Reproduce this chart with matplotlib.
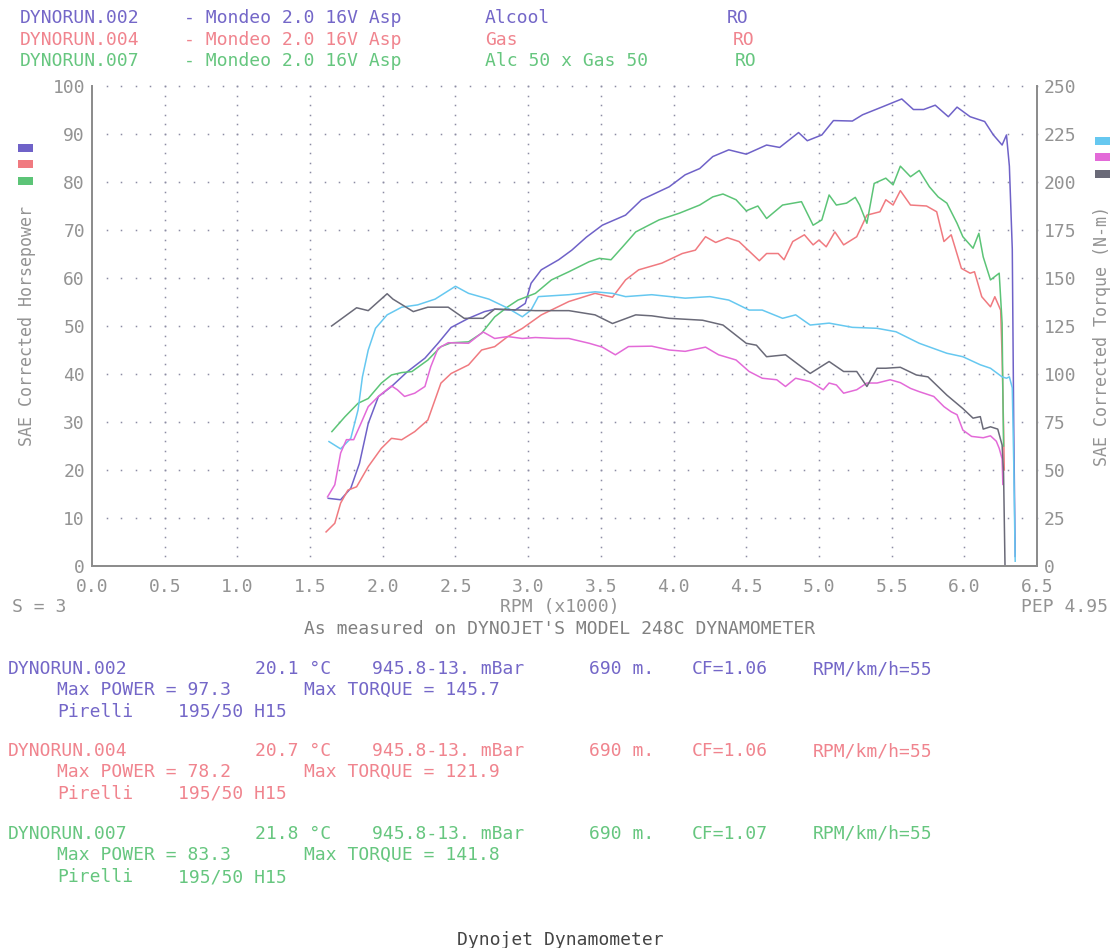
import numpy as np
import matplotlib
matplotlib.use("Agg")
import matplotlib.pyplot as plt
from matplotlib.patches import Rectangle

plt.rcParams['font.family'] = ['DejaVu Sans Mono']

W, H = 1115, 948

# ---- data (rpm x1000) ----
rpm_hp_002 = [1.625, 1.71, 1.78, 1.84, 1.90, 1.97, 2.06, 2.17, 2.29, 2.38, 2.47, 2.59, 2.70, 2.77, 2.91,
              2.98, 3.02, 3.09, 3.21, 3.30, 3.40, 3.51, 3.67, 3.78, 3.97, 4.08, 4.18, 4.27, 4.38, 4.50,
              4.64, 4.73, 4.86, 4.92, 5.02, 5.10, 5.23, 5.30, 5.44, 5.57, 5.65, 5.72, 5.80, 5.89, 5.95,
              6.04, 6.14, 6.20, 6.26, 6.29, 6.31, 6.33, 6.34, 6.35]
hp_002 = [14.1, 13.8, 16.2, 21.4, 29.7, 35.3, 37.4, 40.5, 43.3, 46.4, 49.7, 51.6, 53.0, 53.5, 53.3,
          54.7, 58.9, 61.7, 63.8, 65.8, 68.5, 71.0, 73.1, 76.3, 79.0, 81.5, 82.8, 85.3, 86.7, 85.8,
          87.7, 87.2, 90.3, 88.6, 89.8, 92.8, 92.7, 94.0, 95.7, 97.3, 95.1, 95.1, 96.0, 93.6, 95.6,
          93.6, 92.6, 89.8, 87.7, 89.8, 83.3, 66.0, 29.0, 2.0]

rpm_tq_002 = [1.63, 1.71, 1.78, 1.83, 1.86, 1.90, 1.95, 2.03, 2.13, 2.24, 2.36, 2.50, 2.59, 2.73, 2.86,
              2.96, 3.02, 3.07, 3.28, 3.46, 3.58, 3.67, 3.85, 4.08, 4.25, 4.38, 4.52, 4.61, 4.75, 4.84,
              4.94, 5.07, 5.23, 5.40, 5.53, 5.69, 5.88, 5.99, 6.11, 6.18, 6.26, 6.29, 6.31, 6.33, 6.34,
              6.35]
tq_002 = [64.8, 61.0, 66.5, 81.3, 98.5, 112.5, 123.8, 130.8, 134.8, 136.0, 139.0, 145.7, 142.0, 139.0, 134.3,
          129.8, 133.3, 140.3, 141.3, 142.8, 142.0, 140.3, 141.3, 139.5, 140.3, 138.5, 133.3, 133.3, 129.0, 130.8,
          125.5, 126.5, 124.3, 123.8, 122.0, 116.0, 110.8, 109.0, 104.8, 103.0, 98.5, 97.8, 98.5, 92.8, 53.8,
          2.5]

rpm_hp_004 = [1.61, 1.67, 1.71, 1.76, 1.82, 1.90, 1.99, 2.06, 2.13, 2.22, 2.31, 2.40, 2.47, 2.59, 2.68,
              2.77, 2.86, 2.96, 3.09, 3.28, 3.46, 3.58, 3.67, 3.76, 3.92, 4.06, 4.15, 4.22, 4.29, 4.37,
              4.45, 4.59, 4.64, 4.72, 4.76, 4.82, 4.90, 4.96, 5.00, 5.05, 5.11, 5.17, 5.26, 5.33, 5.42,
              5.46, 5.51, 5.56, 5.63, 5.74, 5.81, 5.86, 5.91, 5.98, 6.04, 6.07, 6.12, 6.18, 6.21, 6.25,
              6.26, 6.27, 6.275]
hp_004 = [7.1, 8.9, 13.1, 15.8, 16.5, 20.7, 24.5, 26.6, 26.3, 28.0, 30.4, 38.1, 40.1, 41.9, 45.0,
          45.7, 47.8, 49.5, 52.3, 55.1, 56.8, 56.0, 59.6, 61.7, 63.1, 65.1, 65.8, 68.6, 67.4, 68.4,
          67.6, 63.6, 65.1, 65.1, 63.8, 67.6, 69.0, 66.9, 67.9, 66.5, 69.6, 66.9, 68.6, 73.1, 73.8,
          76.3, 75.2, 78.2, 75.2, 75.0, 73.8, 67.6, 69.0, 62.0, 61.0, 61.3, 56.1, 54.0, 56.1, 53.3,
          43.6, 29.0, 20.0]

rpm_tq_004 = [1.62, 1.67, 1.71, 1.75, 1.80, 1.85, 1.90, 1.97, 2.06, 2.10, 2.15, 2.22, 2.29, 2.33, 2.38,
              2.45, 2.59, 2.69, 2.77, 2.86, 2.96, 3.05, 3.19, 3.28, 3.42, 3.51, 3.60, 3.69, 3.85, 3.97,
              4.08, 4.22, 4.31, 4.43, 4.52, 4.61, 4.71, 4.77, 4.84, 4.94, 5.03, 5.07, 5.12, 5.17, 5.26,
              5.33, 5.40, 5.49, 5.56, 5.63, 5.69, 5.79, 5.86, 5.91, 5.95, 5.99, 6.05, 6.13, 6.18, 6.22,
              6.24, 6.26, 6.265]
tq_004 = [36.0, 42.3, 58.8, 65.8, 65.8, 74.3, 83.0, 88.3, 93.8, 91.8, 88.3, 90.0, 93.5, 103.8, 113.3,
          116.3, 116.0, 121.9, 118.5, 119.5, 118.5, 119.0, 118.5, 118.5, 116.0, 114.0, 110.0, 114.3, 114.5, 112.5,
          111.8, 114.0, 110.0, 107.3, 101.3, 97.8, 97.0, 93.5, 97.8, 96.0, 91.8, 95.3, 94.3, 90.0, 91.8,
          95.3, 95.3, 97.0, 95.5, 92.5, 90.8, 88.3, 83.0, 80.3, 78.8, 70.8, 67.5, 66.8, 67.8, 65.0,
          61.3, 55.8, 42.5]

rpm_hp_007 = [1.65, 1.74, 1.83, 1.90, 1.99, 2.06, 2.13, 2.20, 2.31, 2.40, 2.47, 2.59, 2.68, 2.77, 2.86,
              2.93, 3.05, 3.16, 3.28, 3.42, 3.49, 3.57, 3.65, 3.74, 3.90, 4.04, 4.18, 4.27, 4.34, 4.43,
              4.50, 4.58, 4.64, 4.75, 4.88, 4.96, 5.02, 5.07, 5.12, 5.19, 5.25, 5.28, 5.33, 5.38, 5.46,
              5.51, 5.56, 5.63, 5.69, 5.76, 5.82, 5.88, 5.95, 5.99, 6.06, 6.10, 6.13, 6.18, 6.24, 6.26,
              6.265, 6.27]
hp_007 = [28.0, 31.1, 33.9, 34.9, 38.1, 39.8, 40.3, 40.5, 42.9, 45.7, 46.5, 46.7, 48.5, 51.9, 54.0,
          55.4, 56.8, 59.6, 61.3, 63.4, 64.1, 63.8, 66.5, 69.6, 72.1, 73.5, 75.2, 76.9, 77.5, 76.3,
          74.0, 75.0, 72.4, 75.2, 75.9, 71.0, 72.1, 77.3, 75.2, 75.6, 76.8, 75.2, 71.4, 79.7, 80.8,
          79.4, 83.3, 81.1, 82.4, 79.0, 76.9, 75.6, 71.4, 68.6, 66.2, 69.3, 64.4, 59.6, 61.0, 50.6,
          36.7, 25.0]

rpm_tq_007 = [1.648, 1.82, 1.90, 2.03, 2.07, 2.21, 2.31, 2.45, 2.56, 2.69, 2.77, 3.05, 3.28, 3.46, 3.58,
              3.74, 3.85, 3.97, 4.20, 4.34, 4.50, 4.57, 4.64, 4.77, 4.94, 5.07, 5.17, 5.26, 5.33, 5.40,
              5.46, 5.56, 5.67, 5.75, 5.88, 5.99, 6.06, 6.11, 6.13, 6.18, 6.23, 6.26, 6.27, 6.28]
tq_007 = [125.0, 134.5, 133.0, 141.8, 139.0, 132.5, 134.8, 134.8, 129.0, 129.0, 133.8, 133.0, 133.0, 130.8, 126.3,
          130.8, 130.3, 129.0, 128.0, 125.5, 116.0, 115.0, 109.0, 110.0, 100.3, 106.5, 101.3, 101.3, 93.5, 103.0,
          103.0, 103.5, 99.5, 98.5, 89.0, 82.0, 77.0, 77.8, 71.3, 72.5, 71.3, 63.0, 48.3, 0.0]

runs = ["DYNORUN.002", "DYNORUN.004", "DYNORUN.007"]
run_desc = ["Alcool", "Gas", "Alc 50 x Gas 50"]
temps = ["20.1 \u00b0C", "20.7 \u00b0C", "21.8 \u00b0C"]
cf = ["CF=1.06", "CF=1.06", "CF=1.07"]
max_power = ["97.3", "78.2", "83.3"]
max_torque = ["145.7", "121.9", "141.8"]

hp_colors = ["#6f62c8", "#f07a80", "#5cc477"]
tq_colors = ["#66c8f0", "#e36ad8", "#6a6a78"]
txt_colors = ["#7467c8", "#f0848e", "#66c67f"]
axis_gray = "#939393"


def fx(x):
    return x / W


def fy(y):
    return 1 - y / H


fig = plt.figure(figsize=(W / 100, H / 100), dpi=100)
ax = fig.add_axes([fx(92), fy(566), fx(1037) - fx(92), fy(86) - fy(566)])
ax2 = ax.twinx()

# dotted grid like the dyno printout
gx = np.arange(0.1, 6.51, 0.1)
for yy in range(10, 101, 10):
    ax.plot(gx, np.full_like(gx, yy), ls='none', marker='s', ms=1.1, mew=0, color='#8c8ca4',
            zorder=1, clip_on=False)
gy = np.arange(2, 101, 2)
for xx in np.arange(0.5, 6.01, 0.5):
    ax.plot(np.full_like(gy, xx, dtype=float), gy, ls='none', marker='s', ms=1.1, mew=0,
            color='#8c8ca4', zorder=1, clip_on=False)

ax.plot(rpm_hp_002, hp_002, color=hp_colors[0], lw=1.1, zorder=3)
ax.plot(rpm_hp_004, hp_004, color=hp_colors[1], lw=1.1, zorder=3)
ax.plot(rpm_hp_007, hp_007, color=hp_colors[2], lw=1.1, zorder=3)
ax2.plot(rpm_tq_002, tq_002, color=tq_colors[0], lw=1.1)
ax2.plot(rpm_tq_004, tq_004, color=tq_colors[1], lw=1.1)
ax2.plot(rpm_tq_007, tq_007, color=tq_colors[2], lw=1.1)

ax.set_xlim(0, 6.5)
ax.set_ylim(0, 100)
ax2.set_ylim(0, 250)
ax.set_xticks(np.arange(0, 6.51, 0.5))
ax.set_xticklabels(["%.1f" % v for v in np.arange(0, 6.51, 0.5)])
ax.set_yticks(range(0, 101, 10))
ax2.set_yticks(range(0, 251, 25))

for a in (ax, ax2):
    a.tick_params(length=0, labelsize=13, colors=axis_gray)
    a.spines['top'].set_visible(False)
    for s in ('left', 'right', 'bottom'):
        a.spines[s].set_color('#8c8c8c')
        a.spines[s].set_linewidth(1.3)
ax.tick_params(axis='y', pad=5)
ax.tick_params(axis='x', pad=9)
ax2.tick_params(axis='y', pad=5)

fig.text(fx(27), fy(326), "SAE Corrected Horsepower", rotation=90, ha='center', va='center',
         fontsize=12, color=axis_gray)
fig.text(fx(1102), fy(336), "SAE Corrected Torque (N-m)", rotation=90, ha='center', va='center',
         fontsize=12, color=axis_gray)

# colour keys beside the axes
for i, yc in enumerate([148, 164, 181]):
    fig.add_artist(Rectangle((fx(18), fy(yc + 4)), fx(15), 8 / H, transform=fig.transFigure,
                             color=hp_colors[i], lw=0))
for i, yc in enumerate([141, 157, 174]):
    fig.add_artist(Rectangle((fx(1095), fy(yc + 4)), fx(15), 8 / H, transform=fig.transFigure,
                             color=tq_colors[i], lw=0))

# header
fs = 13
for i, yy in enumerate([18, 40, 61]):
    c = txt_colors[i]
    fig.text(fx(20), fy(yy), runs[i], color=c, fontsize=fs, va='center')
    fig.text(fx(184), fy(yy), "- Mondeo 2.0 16V Asp", color=c, fontsize=fs, va='center')
    fig.text(fx(485), fy(yy), run_desc[i], color=c, fontsize=fs, va='center')
    fig.text(fx([727, 733, 735][i]), fy(yy), "RO", color=c, fontsize=fs, va='center')

fig.text(fx(12), fy(607), "S = 3", color=axis_gray, fontsize=fs, va='center')
fig.text(fx(560), fy(607), "RPM (x1000)", color=axis_gray, fontsize=fs, va='center', ha='center')
fig.text(fx(1108), fy(607), "PEP 4.95", color=axis_gray, fontsize=fs, va='center', ha='right')
fig.text(fx(560), fy(629), "As measured on DYNOJET'S MODEL 248C DYNAMOMETER", color='#808080',
         fontsize=fs, va='center', ha='center')

# run info blocks
for i, y0 in enumerate([669, 751, 834]):
    c = txt_colors[i]
    fig.text(fx(8), fy(y0), runs[i], color=c, fontsize=fs, va='center')
    fig.text(fx(255), fy(y0), temps[i], color=c, fontsize=fs, va='center')
    fig.text(fx(372), fy(y0), "945.8-13. mBar", color=c, fontsize=fs, va='center')
    fig.text(fx(589), fy(y0), "690 m.", color=c, fontsize=fs, va='center')
    fig.text(fx(692), fy(y0), cf[i], color=c, fontsize=fs, va='center')
    fig.text(fx(813), fy(y0), "RPM/km/h=55", color=c, fontsize=fs, va='center')
    fig.text(fx(57), fy(y0 + 21), "Max POWER = " + max_power[i], color=c, fontsize=fs, va='center')
    fig.text(fx(304), fy(y0 + 21), "Max TORQUE = " + max_torque[i], color=c, fontsize=fs, va='center')
    fig.text(fx(57), fy(y0 + 43), "Pirelli", color=c, fontsize=fs, va='center')
    fig.text(fx(178), fy(y0 + 43), "195/50 H15", color=c, fontsize=fs, va='center')

fig.text(fx(560), fy(940), "Dynojet Dynamometer", color='#444444', fontsize=fs, va='center', ha='center')

fig.savefig("out.png", dpi=100)
